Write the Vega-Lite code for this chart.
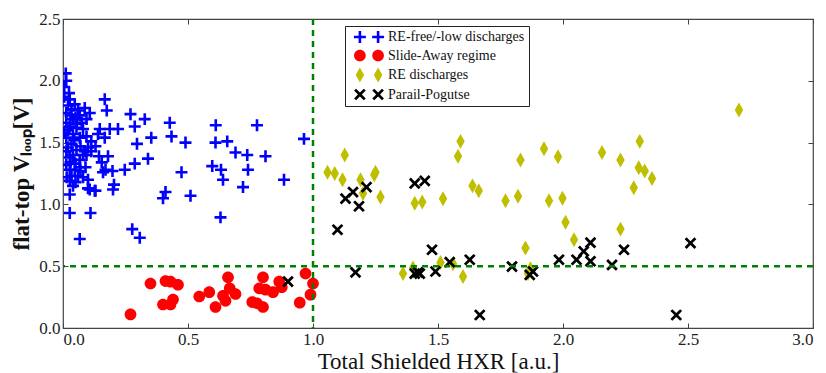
{
  "$schema": "https://vega.github.io/schema/vega-lite/v6.json",
  "width": 750,
  "height": 309,
  "autosize": "none",
  "padding": {"left": 63, "top": 19, "right": 13, "bottom": 45},
  "config": {
    "font": "Liberation Serif",
    "view": {"stroke": "#444", "strokeWidth": 1.2},
    "axis": {
      "grid": false, "domain": false, "tickColor": "#444", "tickSize": -5, "tickWidth": 1,
      "labelColor": "#222", "labelFontSize": 17, "labelFont": "Liberation Serif",
      "titleFont": "Liberation Serif", "titleColor": "#111", "titleFontWeight": "normal", "labelPadding": 8
    },
    "legend": {"title": null, "orient": "none", "legendX": 282, "legendY": 7, "strokeColor": "#222", "fillColor": "white", "padding": 4,
      "symbolSize": 169, "labelOffset": 25, "labelFontSize": 14, "labelFont": "Liberation Serif", "labelColor": "#111", "rowPadding": 4.5, "symbolStrokeWidth": 0, "symbolOpacity": 1}
  },
  "layer": [
    {
      "data": {"values": [
        {"g":"RE-free/-low discharges","x":0.011,"y":2.06},{"g":"RE-free/-low discharges","x":0.067,"y":0.72},{"g":"RE-free/-low discharges","x":0.027,"y":0.93},{"g":"RE-free/-low discharges","x":0.11,"y":0.93},{"g":"RE-free/-low discharges","x":0.027,"y":1.08},{"g":"RE-free/-low discharges","x":0.107,"y":1.12},{"g":"RE-free/-low discharges","x":0.13,"y":1.11},{"g":"RE-free/-low discharges","x":0.167,"y":1.85},{"g":"RE-free/-low discharges","x":0.175,"y":1.76},{"g":"RE-free/-low discharges","x":0.147,"y":1.61},{"g":"RE-free/-low discharges","x":0.187,"y":1.61},{"g":"RE-free/-low discharges","x":0.22,"y":1.61},{"g":"RE-free/-low discharges","x":0.167,"y":1.54},{"g":"RE-free/-low discharges","x":0.13,"y":1.47},{"g":"RE-free/-low discharges","x":0.144,"y":1.39},{"g":"RE-free/-low discharges","x":0.18,"y":1.39},{"g":"RE-free/-low discharges","x":0.155,"y":1.34},{"g":"RE-free/-low discharges","x":0.17,"y":1.28},{"g":"RE-free/-low discharges","x":0.198,"y":1.27},{"g":"RE-free/-low discharges","x":0.204,"y":1.16},{"g":"RE-free/-low discharges","x":0.2,"y":1.12},{"g":"RE-free/-low discharges","x":0.247,"y":1.28},{"g":"RE-free/-low discharges","x":0.27,"y":1.73},{"g":"RE-free/-low discharges","x":0.327,"y":1.69},{"g":"RE-free/-low discharges","x":0.287,"y":1.63},{"g":"RE-free/-low discharges","x":0.353,"y":1.54},{"g":"RE-free/-low discharges","x":0.296,"y":1.49},{"g":"RE-free/-low discharges","x":0.34,"y":1.37},{"g":"RE-free/-low discharges","x":0.287,"y":1.33},{"g":"RE-free/-low discharges","x":0.427,"y":1.66},{"g":"RE-free/-low discharges","x":0.434,"y":1.55},{"g":"RE-free/-low discharges","x":0.49,"y":1.5},{"g":"RE-free/-low discharges","x":0.474,"y":1.26},{"g":"RE-free/-low discharges","x":0.41,"y":1.1},{"g":"RE-free/-low discharges","x":0.4,"y":1.05},{"g":"RE-free/-low discharges","x":0.51,"y":1.07},{"g":"RE-free/-low discharges","x":0.277,"y":0.8},{"g":"RE-free/-low discharges","x":0.307,"y":0.73},{"g":"RE-free/-low discharges","x":0.611,"y":1.64},{"g":"RE-free/-low discharges","x":0.61,"y":1.5},{"g":"RE-free/-low discharges","x":0.657,"y":1.51},{"g":"RE-free/-low discharges","x":0.597,"y":1.31},{"g":"RE-free/-low discharges","x":0.632,"y":1.28},{"g":"RE-free/-low discharges","x":0.64,"y":1.2},{"g":"RE-free/-low discharges","x":0.69,"y":1.42},{"g":"RE-free/-low discharges","x":0.737,"y":1.4},{"g":"RE-free/-low discharges","x":0.74,"y":1.28},{"g":"RE-free/-low discharges","x":0.72,"y":1.14},{"g":"RE-free/-low discharges","x":0.81,"y":1.39},{"g":"RE-free/-low discharges","x":0.776,"y":1.64},{"g":"RE-free/-low discharges","x":0.63,"y":0.895},{"g":"RE-free/-low discharges","x":0.884,"y":1.2},{"g":"RE-free/-low discharges","x":0.964,"y":1.53},{"g":"RE-free/-low discharges","x":0.14,"y":1.57},{"g":"RE-free/-low discharges","x":0.1,"y":1.46},{"g":"RE-free/-low discharges","x":0.094,"y":1.4},{"g":"RE-free/-low discharges","x":0.1,"y":1.13},{"g":"RE-free/-low discharges","x":0.127,"y":1.11},{"g":"RE-free/-low discharges","x":0.16,"y":1.26},
        {"g":"RE-free/-low discharges","x":0.013,"y":2.0},{"g":"RE-free/-low discharges","x":0.024,"y":1.9},{"g":"RE-free/-low discharges","x":0.027,"y":1.85},{"g":"RE-free/-low discharges","x":0.047,"y":1.81},{"g":"RE-free/-low discharges","x":0.034,"y":1.77},{"g":"RE-free/-low discharges","x":0.06,"y":1.76},{"g":"RE-free/-low discharges","x":0.087,"y":1.78},{"g":"RE-free/-low discharges","x":0.107,"y":1.74},{"g":"RE-free/-low discharges","x":0.067,"y":1.72},{"g":"RE-free/-low discharges","x":0.094,"y":1.69},{"g":"RE-free/-low discharges","x":0.04,"y":1.69},{"g":"RE-free/-low discharges","x":0.027,"y":1.63},{"g":"RE-free/-low discharges","x":0.054,"y":1.62},{"g":"RE-free/-low discharges","x":0.08,"y":1.61},{"g":"RE-free/-low discharges","x":0.04,"y":1.57},{"g":"RE-free/-low discharges","x":0.067,"y":1.54},{"g":"RE-free/-low discharges","x":0.094,"y":1.55},{"g":"RE-free/-low discharges","x":0.113,"y":1.51},{"g":"RE-free/-low discharges","x":0.034,"y":1.49},{"g":"RE-free/-low discharges","x":0.054,"y":1.44},{"g":"RE-free/-low discharges","x":0.087,"y":1.43},{"g":"RE-free/-low discharges","x":0.113,"y":1.43},{"g":"RE-free/-low discharges","x":0.027,"y":1.38},{"g":"RE-free/-low discharges","x":0.067,"y":1.36},{"g":"RE-free/-low discharges","x":0.027,"y":1.28},{"g":"RE-free/-low discharges","x":0.047,"y":1.28},{"g":"RE-free/-low discharges","x":0.067,"y":1.3},{"g":"RE-free/-low discharges","x":0.034,"y":1.23},{"g":"RE-free/-low discharges","x":0.06,"y":1.23},{"g":"RE-free/-low discharges","x":0.08,"y":1.22},{"g":"RE-free/-low discharges","x":0.1,"y":1.2},{"g":"RE-free/-low discharges","x":0.04,"y":1.15},{"g":"RE-free/-low discharges","x":0.027,"y":1.19},{"g":"RE-free/-low discharges","x":0.013,"y":1.32},{"g":"RE-free/-low discharges","x":0.013,"y":1.43},{"g":"RE-free/-low discharges","x":0.013,"y":1.54},{"g":"RE-free/-low discharges","x":0.013,"y":1.66},{"g":"RE-free/-low discharges","x":0.013,"y":1.74},{"g":"RE-free/-low discharges","x":0.005,"y":1.95},{"g":"RE-free/-low discharges","x":0.02,"y":1.8},{"g":"RE-free/-low discharges","x":0.05,"y":1.7},{"g":"RE-free/-low discharges","x":0.075,"y":1.66},{"g":"RE-free/-low discharges","x":0.02,"y":1.6},{"g":"RE-free/-low discharges","x":0.045,"y":1.52},{"g":"RE-free/-low discharges","x":0.07,"y":1.47},{"g":"RE-free/-low discharges","x":0.02,"y":1.46},{"g":"RE-free/-low discharges","x":0.04,"y":1.4},{"g":"RE-free/-low discharges","x":0.08,"y":1.4},{"g":"RE-free/-low discharges","x":0.05,"y":1.33},{"g":"RE-free/-low discharges","x":0.03,"y":1.34},{"g":"RE-free/-low discharges","x":0.09,"y":1.3},{"g":"RE-free/-low discharges","x":0.015,"y":1.22},{"g":"RE-free/-low discharges","x":0.05,"y":1.18},{"g":"RE-free/-low discharges","x":0.07,"y":1.27},{"g":"RE-free/-low discharges","x":0.005,"y":1.87},{"g":"RE-free/-low discharges","x":0.03,"y":1.72},{"g":"RE-free/-low discharges","x":0.055,"y":1.65},{"g":"RE-free/-low discharges","x":0.005,"y":1.58},
        {"g":"Slide-Away regime","x":0.27,"y":0.11},{"g":"Slide-Away regime","x":0.35,"y":0.36},{"g":"Slide-Away regime","x":0.41,"y":0.38},{"g":"Slide-Away regime","x":0.43,"y":0.375},{"g":"Slide-Away regime","x":0.46,"y":0.35},{"g":"Slide-Away regime","x":0.4,"y":0.19},{"g":"Slide-Away regime","x":0.43,"y":0.19},{"g":"Slide-Away regime","x":0.44,"y":0.23},{"g":"Slide-Away regime","x":0.545,"y":0.255},{"g":"Slide-Away regime","x":0.585,"y":0.29},{"g":"Slide-Away regime","x":0.61,"y":0.17},{"g":"Slide-Away regime","x":0.64,"y":0.26},{"g":"Slide-Away regime","x":0.66,"y":0.41},{"g":"Slide-Away regime","x":0.667,"y":0.32},{"g":"Slide-Away regime","x":0.69,"y":0.275},{"g":"Slide-Away regime","x":0.65,"y":0.22},{"g":"Slide-Away regime","x":0.757,"y":0.21},{"g":"Slide-Away regime","x":0.776,"y":0.2},{"g":"Slide-Away regime","x":0.8,"y":0.17},{"g":"Slide-Away regime","x":0.8,"y":0.41},{"g":"Slide-Away regime","x":0.785,"y":0.32},{"g":"Slide-Away regime","x":0.81,"y":0.31},{"g":"Slide-Away regime","x":0.84,"y":0.29},{"g":"Slide-Away regime","x":0.865,"y":0.375},{"g":"Slide-Away regime","x":0.875,"y":0.33},{"g":"Slide-Away regime","x":0.97,"y":0.44},{"g":"Slide-Away regime","x":1.0,"y":0.36},{"g":"Slide-Away regime","x":0.99,"y":0.27},{"g":"Slide-Away regime","x":0.947,"y":0.205},
        {"g":"RE discharges","x":2.704,"y":1.764},{"g":"RE discharges","x":1.058,"y":1.26},{"g":"RE discharges","x":1.087,"y":1.25},{"g":"RE discharges","x":1.127,"y":1.4},{"g":"RE discharges","x":1.118,"y":1.2},{"g":"RE discharges","x":1.19,"y":1.2},{"g":"RE discharges","x":1.2,"y":1.09},{"g":"RE discharges","x":1.25,"y":1.26},{"g":"RE discharges","x":1.245,"y":1.24},{"g":"RE discharges","x":1.27,"y":1.06},{"g":"RE discharges","x":1.407,"y":1.01},{"g":"RE discharges","x":1.437,"y":1.02},{"g":"RE discharges","x":1.52,"y":1.045},{"g":"RE discharges","x":1.59,"y":1.51},{"g":"RE discharges","x":1.58,"y":1.39},{"g":"RE discharges","x":1.638,"y":1.15},{"g":"RE discharges","x":1.663,"y":1.11},{"g":"RE discharges","x":1.77,"y":1.03},{"g":"RE discharges","x":1.82,"y":1.066},{"g":"RE discharges","x":1.83,"y":1.36},{"g":"RE discharges","x":1.924,"y":1.45},{"g":"RE discharges","x":1.98,"y":1.385},{"g":"RE discharges","x":1.944,"y":1.03},{"g":"RE discharges","x":1.998,"y":1.05},{"g":"RE discharges","x":2.01,"y":0.855},{"g":"RE discharges","x":2.044,"y":0.714},{"g":"RE discharges","x":1.85,"y":0.647},{"g":"RE discharges","x":2.156,"y":1.42},{"g":"RE discharges","x":2.23,"y":1.36},{"g":"RE discharges","x":2.307,"y":1.51},{"g":"RE discharges","x":2.303,"y":1.296},{"g":"RE discharges","x":2.327,"y":1.27},{"g":"RE discharges","x":2.356,"y":1.21},{"g":"RE discharges","x":2.283,"y":1.134},{"g":"RE discharges","x":2.23,"y":0.8},{"g":"RE discharges","x":1.36,"y":0.44},{"g":"RE discharges","x":1.4,"y":0.485},{"g":"RE discharges","x":1.51,"y":0.53},{"g":"RE discharges","x":1.56,"y":0.52},{"g":"RE discharges","x":1.6,"y":0.416},{"g":"RE discharges","x":1.86,"y":0.44},{"g":"RE discharges","x":1.87,"y":0.48},
        {"g":"Parail-Pogutse","x":0.9,"y":0.376},{"g":"Parail-Pogutse","x":1.098,"y":0.795},{"g":"Parail-Pogutse","x":1.13,"y":1.047},{"g":"Parail-Pogutse","x":1.16,"y":1.1},{"g":"Parail-Pogutse","x":1.214,"y":1.14},{"g":"Parail-Pogutse","x":1.184,"y":0.985},{"g":"Parail-Pogutse","x":1.407,"y":1.17},{"g":"Parail-Pogutse","x":1.447,"y":1.19},{"g":"Parail-Pogutse","x":1.17,"y":0.45},{"g":"Parail-Pogutse","x":1.407,"y":0.44},{"g":"Parail-Pogutse","x":1.427,"y":0.44},{"g":"Parail-Pogutse","x":1.42,"y":0.45},{"g":"Parail-Pogutse","x":1.49,"y":0.457},{"g":"Parail-Pogutse","x":1.476,"y":0.633},{"g":"Parail-Pogutse","x":1.547,"y":0.533},{"g":"Parail-Pogutse","x":1.627,"y":0.552},{"g":"Parail-Pogutse","x":1.667,"y":0.105},{"g":"Parail-Pogutse","x":1.796,"y":0.497},{"g":"Parail-Pogutse","x":1.867,"y":0.43},{"g":"Parail-Pogutse","x":1.88,"y":0.457},{"g":"Parail-Pogutse","x":1.984,"y":0.552},{"g":"Parail-Pogutse","x":2.054,"y":0.552},{"g":"Parail-Pogutse","x":2.083,"y":0.62},{"g":"Parail-Pogutse","x":2.11,"y":0.69},{"g":"Parail-Pogutse","x":2.11,"y":0.54},{"g":"Parail-Pogutse","x":2.196,"y":0.51},{"g":"Parail-Pogutse","x":2.244,"y":0.633},{"g":"Parail-Pogutse","x":2.453,"y":0.105},{"g":"Parail-Pogutse","x":2.51,"y":0.687}
      ]},
      "mark": {"type": "point", "filled": true, "size": 169, "strokeWidth": 0, "opacity": 1, "clip": true},
      "encoding": {
        "x": {"field": "x", "type": "quantitative", "scale": {"domain": [0, 3], "nice": false, "zero": false},
              "axis": {"orient": "bottom", "values": [0, 0.5, 1, 1.5, 2, 2.5, 3], "format": ".1f", "title": "Total Shielded HXR [a.u.]", "titleFontSize": 23, "titlePadding": 3}},
        "y": {"field": "y", "type": "quantitative", "scale": {"domain": [0, 2.5], "nice": false, "zero": false},
              "axis": {"orient": "left", "values": [0, 0.5, 1, 1.5, 2, 2.5], "format": ".1f", "title": "flat-top Vₗₒₒₚ[V]", "titleFontSize": 23, "titleFontWeight": "bold", "titlePadding": 5}},
        "color": {"field": "g", "type": "nominal",
          "scale": {"domain": ["RE-free/-low discharges", "Slide-Away regime", "RE discharges", "Parail-Pogutse"], "range": ["#0000ff", "#ff0000", "#bfbf00", "#000000"]},
          "legend": null},
        "shape": {"field": "g", "type": "nominal",
          "scale": {"domain": ["RE-free/-low discharges", "Slide-Away regime", "RE discharges", "Parail-Pogutse"],
            "range": ["M-0.92,-0.2H-0.2V-0.92H0.2V-0.2H0.92V0.2H0.2V0.92H-0.2V0.2H-0.92Z", "M-0.9,0A0.9,0.9,0,1,0,0.9,0A0.9,0.9,0,1,0,-0.9,0Z", "M0,-1.15L0.65,0L0,1.15L-0.65,0Z", "M-0.9,-0.6L-0.6,-0.9L0,-0.3L0.6,-0.9L0.9,-0.6L0.3,0L0.9,0.6L0.6,0.9L0,0.3L-0.6,0.9L-0.9,0.6L-0.3,0Z"]},
          "legend": null}
      }
    },
    {
      "data": {"values": [{"x": 1.0}]},
      "mark": {"type": "rule", "color": "#008000", "strokeWidth": 2.5, "strokeDash": [6, 5]},
      "encoding": {
        "x": {"field": "x", "type": "quantitative", "scale": {"domain": [0, 3], "nice": false, "zero": false},
              "axis": {"orient": "top", "values": [0, 0.5, 1, 1.5, 2, 2.5, 3], "labels": false, "title": null}}
      }
    },
    {
      "data": {"values": [{"y": 0.5}]},
      "mark": {"type": "rule", "color": "#008000", "strokeWidth": 2.5, "strokeDash": [6, 5]},
      "encoding": {
        "y": {"field": "y", "type": "quantitative", "scale": {"domain": [0, 2.5], "nice": false, "zero": false},
              "axis": {"orient": "right", "values": [0, 0.5, 1, 1.5, 2, 2.5], "labels": false, "title": null}}
      }
    },
    {
      "data": {"values": []},
      "mark": {"type": "point", "filled": true, "size": 169, "strokeWidth": 0, "opacity": 1},
      "encoding": {
        "color": {"field": "g", "type": "nominal",
          "scale": {"domain": ["RE-free/-low discharges", "Slide-Away regime", "RE discharges", "Parail-Pogutse"], "range": ["#0000ff", "#ff0000", "#bfbf00", "#000000"]}},
        "shape": {"field": "g", "type": "nominal",
          "scale": {"domain": ["RE-free/-low discharges", "Slide-Away regime", "RE discharges", "Parail-Pogutse"],
            "range": [
              "M-0.32,-0.2H0.4V-0.92H0.8V-0.2H1.52V0.2H0.8V0.92H0.4V0.2H-0.32Z M2.48,-0.2H3.2V-0.92H3.6V-0.2H4.32V0.2H3.6V0.92H3.2V0.2H2.48Z",
              "M-0.3,0A0.9,0.9,0,1,0,1.5,0A0.9,0.9,0,1,0,-0.3,0Z M2.5,0A0.9,0.9,0,1,0,4.3,0A0.9,0.9,0,1,0,2.5,0Z",
              "M0.6,-1.15L1.25,0L0.6,1.15L-0.05,0Z M3.4,-1.15L4.05,0L3.4,1.15L2.75,0Z",
              "M-0.3,-0.6L0,-0.9L0.6,-0.3L1.2,-0.9L1.5,-0.6L0.9,0L1.5,0.6L1.2,0.9L0.6,0.3L0,0.9L-0.3,0.6L0.3,0Z M2.5,-0.6L2.8,-0.9L3.4,-0.3L4,-0.9L4.3,-0.6L3.7,0L4.3,0.6L4,0.9L3.4,0.3L2.8,0.9L2.5,0.6L3.1,0Z"]}}
      }
    }
  ],
  "resolve": {"axis": {"x": "independent", "y": "independent"}, "scale": {"color": "independent", "shape": "independent"}}
}
